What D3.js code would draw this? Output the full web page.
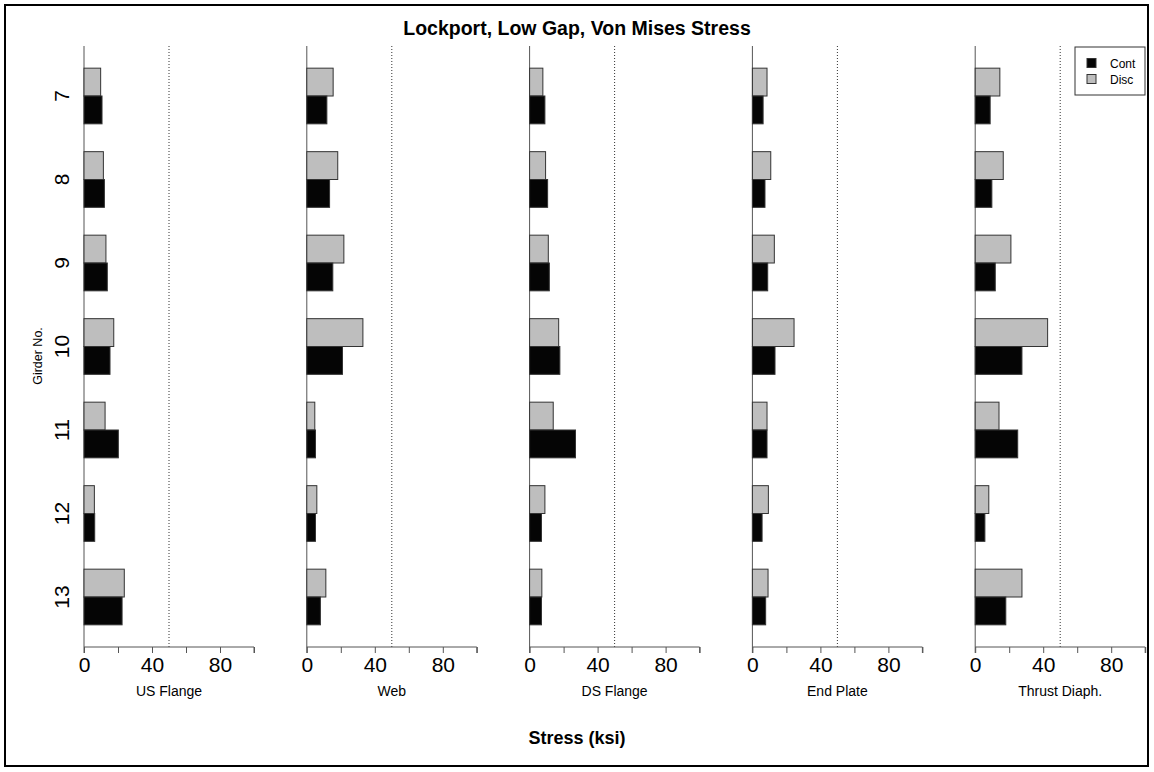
<!DOCTYPE html>
<html>
<head>
<meta charset="utf-8">
<script src="https://cdn.jsdelivr.net/npm/d3@7"></script>
<style>
  body { margin: 0; background: #fff; }
  svg { display: block; font-family: "Liberation Sans", Arial, sans-serif; }
</style>
</head>
<body>
<svg id="chart" width="1154" height="772"></svg>
<script>
const girders = ["7", "8", "9", "10", "11", "12", "13"];
const components = ["US Flange", "Web", "DS Flange", "End Plate", "Thrust Diaph."];
const seriesNames = ["Disc", "Cont"];
const legendNames = ["Cont", "Disc"];
const xTicks = [0, 20, 40, 60, 80, 100];
const xTickLabels = [0, 40, 80];
const limitValue = 50;

// values per component, girders 7..13
const contUSFlange   = [10.6, 12.0, 13.7, 15.3, 20.2, 6.3, 22.4];
const discUSFlange   = [9.8, 11.4, 12.9, 17.5, 12.4, 6.1, 23.7];
const contWeb        = [11.8, 13.4, 15.3, 21.0, 5.1, 5.1, 8.0];
const discWeb        = [15.5, 18.2, 21.8, 33.0, 4.7, 5.9, 11.2];
const contDSFlange   = [9.0, 10.6, 11.6, 17.8, 27.0, 7.0, 7.0];
const discDSFlange   = [7.8, 9.4, 11.0, 17.1, 13.9, 9.0, 7.2];
const contEndPlate   = [6.3, 7.4, 9.0, 13.3, 8.6, 5.7, 7.8];
const discEndPlate   = [8.6, 10.8, 12.9, 24.5, 8.6, 9.4, 9.2];
const contThrust     = [8.8, 9.8, 11.8, 27.5, 25.0, 5.7, 18.0];
const discThrust     = [14.5, 16.5, 21.0, 42.6, 14.0, 8.0, 27.5];

const contValues = [contUSFlange, contWeb, contDSFlange, contEndPlate, contThrust];
const discValues = [discUSFlange, discWeb, discDSFlange, discEndPlate, discThrust];

const colors = { Cont: "#050505", Disc: "#bebebe" };

const svg = d3.select("#chart");

// outer frame
svg.append("rect").attr("x", 5).attr("y", 5).attr("width", 1143).attr("height", 761)
  .attr("fill", "none").attr("stroke", "#000").attr("stroke-width", 2);

// title
svg.append("text").attr("x", 577).attr("y", 35).attr("text-anchor", "middle")
  .attr("font-size", 19.5).attr("font-weight", "bold").text("Lockport, Low Gap, Von Mises Stress");

const y = d3.scaleBand().domain(girders).range([54.25, 638.75])
  .paddingInner(1 / 3).paddingOuter(1 / 6);
const yInner = d3.scaleBand().domain(seriesNames).range([0, y.bandwidth()]);

const axisY = 647;
const axisTop = 46;
const panelStart = 84, panelStep = 222.8, panelWidth = 170;

// y-axis labels (rotated)
girders.forEach(g => {
  const cy = y(g) + y.bandwidth() / 2;
  svg.append("text").attr("transform", `translate(69,${cy}) rotate(-90)`)
    .attr("text-anchor", "middle").attr("font-size", 21).text(g);
});
svg.append("text").attr("transform", `translate(42,356) rotate(-90)`)
  .attr("text-anchor", "middle").attr("font-size", 12.5).text("Girder No.");

components.forEach((comp, i) => {
  const x0 = panelStart + i * panelStep;
  const x = d3.scaleLinear().domain([0, 100]).range([x0, x0 + panelWidth]);
  const g = svg.append("g");

  // zero line
  g.append("line").attr("x1", x(0)).attr("x2", x(0)).attr("y1", axisTop).attr("y2", axisY)
    .attr("stroke", "#555").attr("stroke-width", 1);
  // limit dotted line
  g.append("line").attr("x1", x(limitValue)).attr("x2", x(limitValue)).attr("y1", axisTop).attr("y2", axisY)
    .attr("stroke", "#333").attr("stroke-width", 1).attr("stroke-dasharray", "1,2");

  // bars
  girders.forEach((gd, j) => {
    const vals = { Disc: discValues[i][j], Cont: contValues[i][j] };
    seriesNames.forEach(s => {
      g.append("rect")
        .attr("x", x(0))
        .attr("y", y(gd) + yInner(s))
        .attr("width", x(vals[s]) - x(0))
        .attr("height", yInner.bandwidth())
        .attr("fill", colors[s])
        .attr("stroke", "#333").attr("stroke-width", 1);
    });
  });

  // x axis
  const ax = d3.axisBottom(x).tickValues(xTicks).tickSize(6)
    .tickFormat(d => xTickLabels.includes(d) ? d : "");
  const axG = g.append("g").attr("transform", `translate(0,${axisY})`).call(ax);
  axG.select(".domain").attr("stroke", "#555").attr("d", `M${x(0)},6V0H${x(100)}V6`);
  axG.selectAll(".tick line").attr("stroke", "#555");
  axG.selectAll(".tick text").attr("font-size", 21).attr("font-family", "Liberation Sans, Arial, sans-serif")
    .attr("fill", "#000").attr("dy", null).attr("y", 24.5);

  // panel label
  g.append("text").attr("x", x(50)).attr("y", 696).attr("text-anchor", "middle")
    .attr("font-size", 14).text(comp);
});

// x title
svg.append("text").attr("x", 577).attr("y", 744).attr("text-anchor", "middle")
  .attr("font-size", 18).attr("font-weight", "bold").text("Stress (ksi)");

// legend
const lg = svg.append("g");
lg.append("rect").attr("x", 1075).attr("y", 47).attr("width", 70).attr("height", 48)
  .attr("fill", "#fff").attr("stroke", "#333").attr("stroke-width", 1);
legendNames.forEach((n, k) => {
  const cy = 63 + k * 16;
  lg.append("rect").attr("x", 1087).attr("y", cy - 4.5).attr("width", 9).attr("height", 9)
    .attr("fill", colors[n]).attr("stroke", "#333").attr("stroke-width", 1);
  lg.append("text").attr("x", 1110).attr("y", cy + 4.5).attr("font-size", 12).text(n);
});
</script>
</body>
</html>
